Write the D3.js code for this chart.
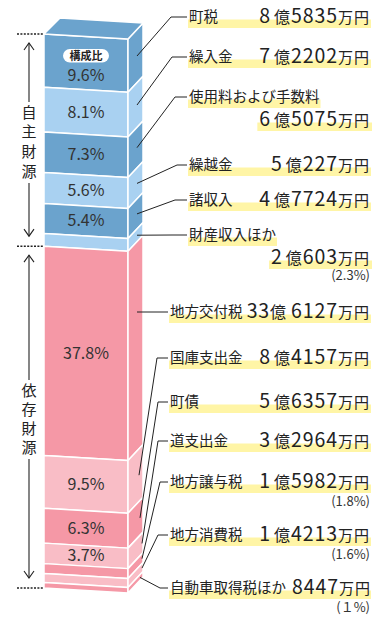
<!DOCTYPE html>
<meta charset="utf-8">
<html>
<head>
<script src="https://d3js.org/d3.v7.min.js" charset="utf-8"></script>
<style>
  body { margin: 0; background: #fff; }
  svg text { font-family: "Noto Sans CJK JP", "Noto Sans", sans-serif; fill: #222; }
  svg .num { letter-spacing: 0.9px; }
</style>
</head>
<body>
<div id="chart"></div>
<script>
// ---- data ----
var labels = ['町税', '繰入金', '使用料および手数料', '繰越金', '諸収入', '財産収入ほか',
              '地方交付税', '国庫支出金', '町債', '道支出金', '地方譲与税', '地方消費税', '自動車取得税ほか'];
var oku = [8, 7, 6, 5, 4, 2, 33, 8, 5, 3, 1, 1, 0];
var man = [5835, 2202, 5075, 227, 7724, 603, 6127, 4157, 6357, 2964, 5982, 4213, 8447];
var share = [9.6, 8.1, 7.3, 5.6, 5.4, 2.3, 37.8, 9.5, 6.3, 3.7, 1.8, 1.6, 1];
var source = ['自主財源', '自主財源', '自主財源', '自主財源', '自主財源', '自主財源',
              '依存財源', '依存財源', '依存財源', '依存財源', '依存財源', '依存財源', '依存財源'];
var sourceNames = ['自主財源', '依存財源'];

// ---- layout ----
var width = 381, height = 621;
var frontL = 44, frontR = 128;   // front face of the block
var depthX = 15, depthY = -16;   // side / top face offset
var slope = 5;                   // front edges drop a little to the right
var labelY = [17, 57, 97, 165, 200, 235, 312, 358, 402, 441, 482, 535, 588];
var twoLine = [false, false, true, false, false, true, false, false, false, false, false, false, false];
var cornerX = [171, 172, 175, 177, 175, 172, null, 157, 158, 158, 160, 158, 160];
var endX = [137, 137, 137, 137, 137, 137, 137, 139, 140, 142, 142, 142, 140];
var valueRight = 370;
var colors = { '自主財源': ['#6ba3cd', '#a9d1f1'], '依存財源': ['#f598a6', '#f9bdc6'] };
var hiColor = '#fff5a6';

var y = d3.scaleLinear().domain([0, 100]).range([34, 588]);

// stack the shares
var cum = 0;
var segs = labels.map(function(l, i) {
    var s = { i: i, label: l, a: cum, b: cum + share[i], src: source[i] };
    cum += share[i];
    return s;
});
// index inside its group -> alternating shade
segs.forEach(function(d) {
    d.k = segs.filter(function(e) { return e.src === d.src && e.i < d.i; }).length;
    d.color = colors[d.src][d.k % 2];
});

var svg = d3.select("#chart").append("svg")
    .attr("width", width)
    .attr("height", height);

var line = d3.line();

// ---- block ----
var block = svg.append("g");
block.selectAll(".front")
    .data(segs).enter().append("polygon")
    .attr("points", function(d) {
        return [[frontL, y(d.a)], [frontR, y(d.a) + slope], [frontR, y(d.b) + slope], [frontL, y(d.b)]].join(" ");
    })
    .attr("fill", function(d) { return d.color; })
    .attr("stroke", "#fff").attr("stroke-width", 1.5).attr("stroke-linejoin", "round");

block.selectAll(".side")
    .data(segs).enter().append("polygon")
    .attr("points", function(d) {
        return [[frontR, y(d.a) + slope], [frontR + depthX, y(d.a) + slope + depthY],
                [frontR + depthX, y(d.b) + slope + depthY], [frontR, y(d.b) + slope]].join(" ");
    })
    .attr("fill", function(d) { return d.color; })
    .attr("stroke", "#fff").attr("stroke-width", 1.5).attr("stroke-linejoin", "round");

// top face
block.append("polygon")
    .attr("points", [[frontL, y(0)], [frontL + depthX + 1, y(0) + depthY], [frontR + depthX, y(0) + slope + depthY], [frontR, y(0) + slope]].join(" "))
    .attr("fill", segs[0].color)
    .attr("stroke", "#fff").attr("stroke-width", 1.5).attr("stroke-linejoin", "round");

// percentages inside the block
var cx = (frontL + frontR) / 2;
block.selectAll(".pct")
    .data(segs.filter(function(d) { return d.b - d.a >= 3; }))
    .enter().append("text")
    .attr("x", cx)
    .attr("y", function(d) { return (y(d.a) + y(d.b)) / 2 + slope / 2 + (d.i === 0 ? 12 : 0) + 5.5; })
    .attr("text-anchor", "middle")
    .style("font-size", "16px")
    .style("fill", "#333")
    .text(function(d) { return d3.format(".1f")(d.b - d.a) + "%"; });

// "構成比" pill
var pillY = (y(segs[0].a) + y(segs[0].b)) / 2 + slope / 2 - 7;
block.append("rect")
    .attr("x", cx - 23).attr("y", pillY - 7)
    .attr("width", 46).attr("height", 13.5).attr("rx", 6.75)
    .attr("fill", "#fff");
block.append("text")
    .attr("x", cx).attr("y", pillY + 4)
    .attr("text-anchor", "middle")
    .style("font-size", "11px").style("font-weight", "bold")
    .text("構成比");

// ---- source brackets (dotted lines + arrows) ----
var groups = sourceNames.map(function(n) {
    var s = segs.filter(function(d) { return d.src === n; });
    return { name: n, a: s[0].a, b: s[s.length - 1].b };
});
var marks = [0].concat(groups.map(function(g) { return g.b; }));
svg.selectAll(".dash")
    .data(marks).enter().append("line")
    .attr("x1", 17).attr("x2", frontL)
    .attr("y1", function(d) { return y(d); }).attr("y2", function(d) { return y(d); })
    .attr("stroke", "#222").attr("stroke-width", 1.6)
    .attr("stroke-dasharray", "2,1.4");

var ax = 29;
var textStart = [112, 390], textStep = [19.7, 19];
groups.forEach(function(g, gi) {
    var top = y(g.a) + 9, bot = y(g.b) - 10;
    var chars = g.name.split("");
    var c0 = textStart[gi], c1 = c0 + textStep[gi] * (chars.length - 1);
    var ga = svg.append("g").attr("fill", "none").attr("stroke", "#222").attr("stroke-width", 1.1);
    ga.append("path").attr("d", line([[ax, top], [ax, c0 - 10]]));
    ga.append("path").attr("d", line([[ax, c1 + 12], [ax, bot]]));
    ga.append("path").attr("d", line([[ax - 5, top + 7], [ax, top], [ax + 5, top + 7]]));
    ga.append("path").attr("d", line([[ax - 5, bot - 7], [ax, bot], [ax + 5, bot - 7]]));
    svg.append("g").selectAll("text")
        .data(chars).enter().append("text")
        .attr("x", ax)
        .attr("y", function(d, i) { return c0 + textStep[gi] * i + 5.5; })
        .attr("text-anchor", "middle")
        .style("font-size", "15px")
        .text(function(d) { return d; });
});

// ---- labels ----
var hiLayer = svg.append("g");
var leaders = svg.append("g").attr("fill", "none").attr("stroke", "#222").attr("stroke-width", 1);
var textLayer = svg.append("g");

segs.forEach(function(d) {
    var i = d.i;
    var lx = d.src === sourceNames[0] ? 189 : 170;
    var ly = labelY[i];
    var mid = (y(d.a) + y(d.b)) / 2;
    var t = (endX[i] - frontR) / depthX;
    var ey = cornerX[i] === null ? ly : mid + slope + t * depthY;
    var pts = cornerX[i] === null ? [[endX[i], ey], [lx - 2, ly]]
                                   : [[endX[i], ey], [cornerX[i], ly], [lx - 2, ly]];
    leaders.append("path").attr("d", line(pts));

    var lab = textLayer.append("text")
        .attr("x", lx).attr("y", ly + 5)
        .style("font-size", "14.5px")
        .text(d.label);

    var vy = twoLine[i] ? ly + 23 : ly;
    var val = textLayer.append("text")
        .attr("x", valueRight).attr("y", vy + 5.5)
        .attr("text-anchor", "end");
    if (oku[i] > 0) {
        val.append("tspan").attr("class", "num").style("font-size", "19.5px").text(oku[i]);
        val.append("tspan").attr("dx", oku[i] < 10 ? 3 : 0).style("font-size", "16px").text("億");
    }
    val.append("tspan").attr("class", "num").attr("dx", oku[i] >= 10 ? 5 : 1).style("font-size", "19.5px").text(man[i]);
    val.append("tspan").style("font-size", "15px").style("letter-spacing", "1px").text("万円");

    var lb = lab.node().getBBox(), vb = val.node().getBBox();
    if (twoLine[i]) {
        hiLayer.append("rect").attr("x", lx - 1).attr("y", ly + 2.5)
            .attr("width", lb.width + 2).attr("height", 8.5).attr("fill", hiColor);
        hiLayer.append("rect").attr("x", vb.x - 2).attr("y", vy + 2.5)
            .attr("width", valueRight + 2 - (vb.x - 2)).attr("height", 8.5).attr("fill", hiColor);
    } else {
        hiLayer.append("rect").attr("x", lx - 1).attr("y", ly + 2.5)
            .attr("width", valueRight + 1 - (lx - 1)).attr("height", 8.5).attr("fill", hiColor);
    }

    // small shares go in brackets under the value
    if (d.b - d.a < 3) {
        var p = share[i] >= 1.05 ? d3.format(".1f")(share[i]) : "１";
        textLayer.append("text")
            .attr("x", valueRight).attr("y", vy + (twoLine[i] ? 22 : 23.5))
            .attr("text-anchor", "end")
            .style("font-size", "13px").style("fill", "#333")
            .text("(" + p + "%)");
    }
});
</script>
</body>
</html>
